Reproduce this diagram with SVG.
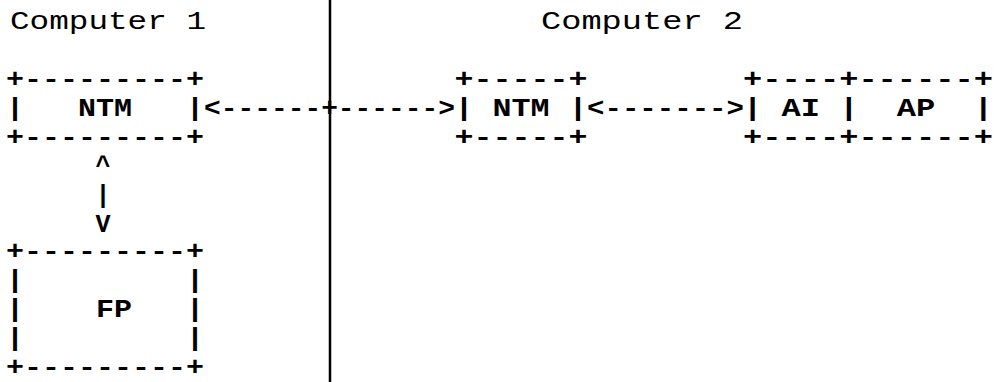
<svg xmlns="http://www.w3.org/2000/svg" width="994" height="382" viewBox="0 0 994 382">
  <style>
    text { font-family: "Liberation Mono", "DejaVu Sans Mono", monospace; font-size: 25px; font-weight: bold; fill: #000; white-space: pre; }
    text.hdr { font-weight: normal; font-size: 26px; }
    text.c { text-anchor: middle; }
    .divider { stroke: #000; stroke-width: 2.5; fill: none; }
  </style>
  <rect width="994" height="382" fill="#fff"/>

  <g id="divider">
    <line class="divider" x1="330" y1="0" x2="330" y2="382"/>
  </g>

  <g id="headers">
    <text class="hdr" x="10" y="28.5" textLength="196" lengthAdjust="spacingAndGlyphs">Computer 1</text>
    <text class="hdr" x="541" y="28.5" textLength="202" lengthAdjust="spacingAndGlyphs">Computer 2</text>
  </g>

  <g id="ntm1">
    <text x="6" y="86.5" textLength="198" lengthAdjust="spacingAndGlyphs">+---------+</text>
    <text x="6" y="115.5" textLength="198" lengthAdjust="spacingAndGlyphs">|   NTM   |</text>
    <text x="6" y="144.5" textLength="198" lengthAdjust="spacingAndGlyphs">+---------+</text>
  </g>

  <g id="ntm2">
    <text x="454.5" y="86.5" textLength="133" lengthAdjust="spacingAndGlyphs">+-----+</text>
    <text x="454.5" y="115.5" textLength="133" lengthAdjust="spacingAndGlyphs">| NTM |</text>
    <text x="454.5" y="144.5" textLength="133" lengthAdjust="spacingAndGlyphs">+-----+</text>
  </g>

  <g id="ai-ap">
    <text x="743" y="86.5" textLength="250" lengthAdjust="spacingAndGlyphs">+----+------+</text>
    <text x="743" y="115.5" textLength="250" lengthAdjust="spacingAndGlyphs">| AI |  AP  |</text>
    <text x="743" y="144.5" textLength="250" lengthAdjust="spacingAndGlyphs">+----+------+</text>
  </g>

  <g id="fp">
    <text x="6" y="258.5" textLength="198" lengthAdjust="spacingAndGlyphs">+---------+</text>
    <text x="6" y="287.5" textLength="198" lengthAdjust="spacingAndGlyphs">|         |</text>
    <text x="6" y="316.5" textLength="198" lengthAdjust="spacingAndGlyphs">|    FP   |</text>
    <text x="6" y="345.5" textLength="198" lengthAdjust="spacingAndGlyphs">|         |</text>
    <text x="6" y="374.5" textLength="198" lengthAdjust="spacingAndGlyphs">+---------+</text>
  </g>

  <g id="connectors">
    <text x="204" y="115.5" textLength="251" lengthAdjust="spacingAndGlyphs">&lt;------+------&gt;</text>
    <text x="587" y="115.5" textLength="157" lengthAdjust="spacingAndGlyphs">&lt;-------&gt;</text>
    <text class="c" x="103" y="173.5">^</text>
    <text class="c" x="103" y="202.5">|</text>
    <text class="c" x="103" y="231.5">V</text>
  </g>
</svg>
